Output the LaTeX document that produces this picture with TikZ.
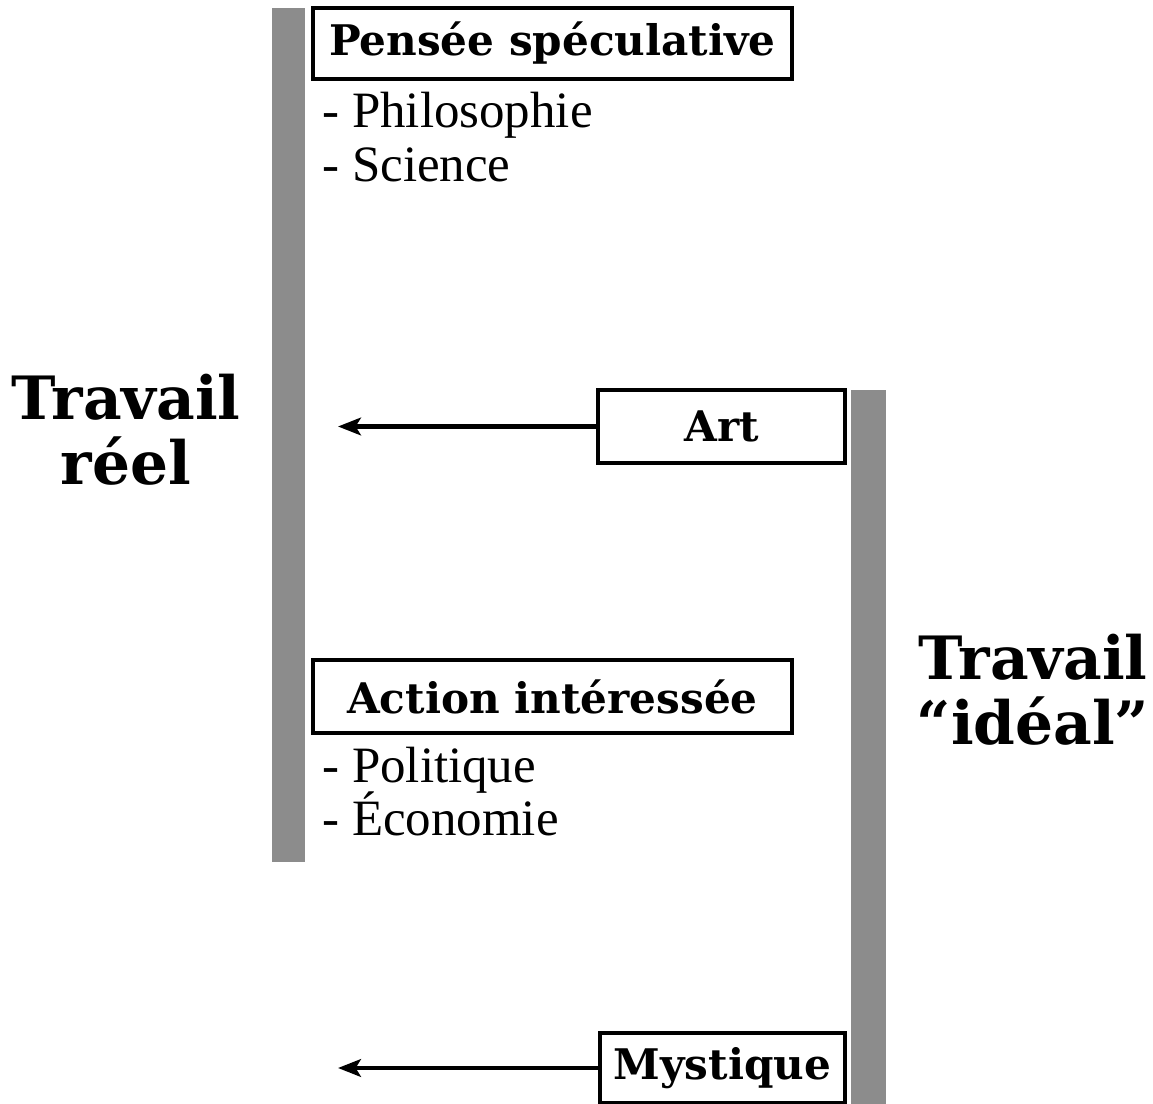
\documentclass[tikz,border=0pt]{standalone}
\usepackage{fontspec}
\setmainfont{Liberation Serif}
\newfontfamily\headfont{DejaVu Serif}
\usetikzlibrary{arrows.meta}

\begin{document}
\begin{tikzpicture}[x=0.02cm, y=-0.02cm,
    bar/.style={fill=black!45},
    titlebox/.style={draw, line width=2.6pt, inner sep=0pt, font=\headfont\bfseries\fontsize{24}{28}\selectfont},
    item/.style={anchor=base west, inner sep=0pt, font=\fontsize{29}{34}\selectfont},
    biglabel/.style={align=center, inner sep=0pt, font=\headfont\bfseries\fontsize{34}{37}\selectfont},
    toreal/.style={line width=2.6pt, -{Stealth[length=13pt,width=10pt,inset=3pt]}}]
    \useasboundingbox (0,0) rectangle (1153,1104);

    % --- Bars: real work (left), ideal work (right) ---
    \fill[bar] (272,8) rectangle (305,862);
    \fill[bar] (851,390) rectangle (886,1104);

    % --- Left column ---
    \node[titlebox, minimum width=9.58cm, minimum height=1.42cm] (pensee) at (552.5,43.5) {Pensée spéculative};
    \node[item] (philo) at (322,128) {- Philosophie};
    \node[item] (science) at (322,182) {- Science};

    \node[titlebox, minimum width=9.58cm, minimum height=1.46cm] (action) at (552.5,696.5) {Action intéressée};
    \node[item] (polit) at (322,782) {- Politique};
    \node[item] (eco) at (322,835) {- Économie};

    % --- Right column ---
    \node[titlebox, minimum width=4.94cm, minimum height=1.46cm] (art) at (721.5,426.5) {Art};
    \node[titlebox, minimum width=4.9cm, minimum height=1.4cm] (mystique) at (722.5,1068) {Mystique};

    % Arrows back to the real side
    \coordinate (artend) at (338,426.5);
    \coordinate (mystend) at (338,1068);
    \draw[toreal] (art.west) -- (artend);
    \draw[toreal] (mystique.west) -- (mystend);

    % --- Labels ---
    \node[biglabel] (reel) at (126,430) {Travail\\réel};
    \node[biglabel] (ideal) at (1033,690) {Travail\\“idéal”};
\end{tikzpicture}
\end{document}
